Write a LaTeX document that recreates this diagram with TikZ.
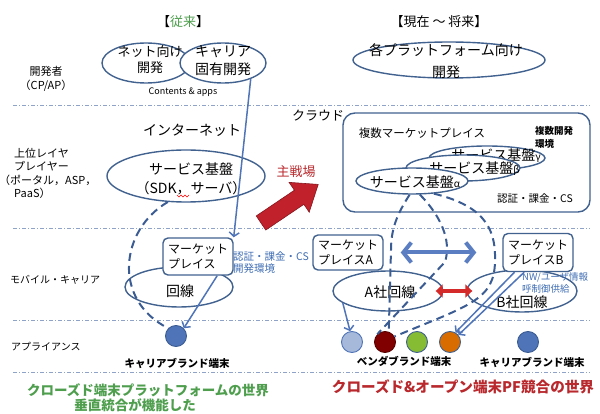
\documentclass[tikz,border=0pt]{standalone}
\usepackage{fontspec}
\setmainfont{Noto Sans CJK JP}
\usetikzlibrary{arrows.meta,shapes.geometric}
\definecolor{edgeblue}{HTML}{41618F}
\definecolor{lineblue}{HTML}{4F74B8}
\definecolor{bigblue}{HTML}{5B7EC2}
\definecolor{dashblue}{HTML}{3A5C93}
\definecolor{sepcol}{HTML}{8FA3C8}
\definecolor{notecol}{HTML}{3F6DB3}
\definecolor{greentext}{HTML}{4E9E4E}
\definecolor{redtext}{HTML}{B8282C}
\definecolor{arrowred}{HTML}{C0212B}
\definecolor{dblredarrow}{HTML}{D42A2A}
\newcommand\fz[2]{\fontsize{#1}{#2}\selectfont}
\begin{document}
\begin{tikzpicture}[x=1pt,y=-1pt,
  oval/.style={ellipse, draw=edgeblue, line width=1.4pt, inner sep=0pt},
  wov/.style={oval, fill=white},
  mbox/.style={draw=edgeblue, line width=1.4pt, rounded corners=5pt, fill=white, align=left, inner sep=2pt, font=\fz{12}{15}},
  lbl/.style={inner sep=0pt},
  sepline/.style={draw=sepcol, line width=0.7pt, dash pattern=on 4pt off 2pt on 1pt off 2pt},
  bluearrow/.style={draw=lineblue, line width=1.5pt, -{Straight Barb[length=4pt,width=10pt]}},
  dashl/.style={draw=dashblue, line width=2pt, dash pattern=on 8pt off 5pt},
  term/.style={circle, minimum size=21pt, inner sep=0pt, line width=0.9pt, draw=edgeblue},
]
\useasboundingbox (0,0) rectangle (600,414);

% separators
\draw[sepline] (13,105) -- (590,105);
\draw[sepline] (13,228) -- (590,228);
\draw[sepline] (13,320) -- (590,320);
\draw[sepline] (13,372) -- (590,372);

% titles
\node[lbl, font=\fz{13}{15}] (t1) at (183,22) {【\textcolor{greentext}{従来}】};
\node[lbl, font=\fz{13}{15}] (t2) at (439,22) {【現在 ～ 将来】};

% left labels
\node[lbl, font=\fz{11}{14}, align=center] (l1) at (46,79) {開発者\\（CP/AP）};
\node[lbl, anchor=west, font=\fz{11}{13}] (l2a) at (14,153) {上位レイヤ};
\node[lbl, anchor=west, font=\fz{11}{13}] (l2b) at (14,166) {プレイヤー};
\node[lbl, anchor=west, font=\fz{11}{13}] (l2c) at (-1,180) {（ポータル，ASP，};
\node[lbl, anchor=west, font=\fz{11}{13}] (l2d) at (14,193) {PaaS）};
\node[lbl, anchor=west, font=\fz{10}{12}] (l3) at (10,280) {モバイル・キャリア};
\node[lbl, anchor=west, font=\fz{10}{12}] (l4) at (11,347) {アプライアンス};

% developer layer (left)
\node[wov, minimum width=88pt, minimum height=40pt] (netdev) at (146,63) {};
\node[lbl, font=\fz{13}{16}, align=center] (netdevt) at (150,60) {ネット向け\\開発};
\node[wov, minimum width=86pt, minimum height=40pt] (cardev) at (223,63) {};
\node[lbl, font=\fz{14}{18}, align=center] (cardevt) at (223,61) {キャリア\\固有開発};
\node[lbl, font=\fz{9}{11}] (capps) at (183,92) {Contents \& apps};

% developer layer (right)
\node[oval, minimum width=192pt, minimum height=36pt] (pfdev) at (449,60) {};
\node[lbl, font=\fz{14}{22}, align=center] (pfdevt) at (446,61) {各プラットフォーム向け\\開発};

% upper layer left
\node[lbl, font=\fz{14}{16}] (inet) at (192,130) {インターネット};
\node[oval, minimum width=158pt, minimum height=52pt] (svc) at (186,176) {};
\node[lbl, font=\fz{14}{19}, align=center] (svct) at (191,179) {サービス基盤\\（SDK，サーバ）};
\draw[red, line width=0.5pt] (177,195) -- (179,197) -- (181,195) -- (183,197) -- (185,195) -- (187,197) -- (189,195);

% main battlefield arrow
\node[lbl, font=\fz{13}{15}, text=redtext] (senjo) at (296,172) {主戦場};
\begin{scope}[shift={(261,223)}, rotate=34]
\fill[arrowred, draw=arrowred!70!black, line width=0.6pt] (0,-8.5) -- (46,-8.5) -- (46,-18) -- (69,0) -- (46,18) -- (46,8.5) -- (0,8.5) -- cycle;
\end{scope}

% cloud
\node[lbl, font=\fz{13}{15}] (cloudt) at (318,116) {クラウド};
\node[draw=edgeblue, line width=1.4pt, rounded corners=12pt, minimum width=247pt, minimum height=99pt, fill=white] (cloud) at (466.5,162.5) {};
\node[lbl, font=\fz{11.5}{14}] (multimp) at (422,133) {複数マーケットプレイス};
\node[lbl, anchor=north west, font=\fz{9.5}{13}\bfseries, align=left] (multidev) at (535,126) {複数開発\\環境};
\node[lbl, font=\fz{10.5}{13}] (authr) at (535,199) {認証・課金・CS};
\node[wov, minimum width=116pt, minimum height=24pt] (gam) at (487,158) {};
\node[lbl, anchor=east, font=\fz{14}{16}] (gamt) at (541,156) {サービス基盤{\fz{10}{12}γ}};
\node[wov, minimum width=114pt, minimum height=26pt] (bet) at (463,168) {};
\node[lbl, anchor=east, font=\fz{14}{16}] (bett) at (520,169) {サービス基盤{\fz{10}{12}β}};
\node[wov, minimum width=112pt, minimum height=26pt] (alp) at (412,181) {};
\node[lbl, font=\fz{14}{16}] (alpt) at (415,182) {サービス基盤{\fz{10}{12}α}};

% mobile layer left
\node[oval, minimum width=108pt, minimum height=40pt] (mline) at (179,287) {};
\node[mbox, minimum width=70pt, minimum height=37pt] (mkt) at (198,256.5) {マーケット\\プレイス};
\node[lbl, font=\fz{14}{16}] (mlinet) at (180,291) {回線};
\node[lbl, anchor=north west, align=left, font=\fz{10.5}{12.5}, text=notecol] (note1) at (233,251) {認証・課金・CS\\開発環境};

% mobile layer right
\node[oval, minimum width=110pt, minimum height=40pt] (lineA) at (388,291) {};
\node[mbox, minimum width=70pt, minimum height=35pt] (mktA) at (348,252.5) {マーケット\\プレイスA};
\node[lbl, font=\fz{14}{16}] (lineAt) at (390,292) {A社回線};
\node[oval, minimum width=110pt, minimum height=42pt] (lineB) at (522,291) {};
\node[mbox, minimum width=70pt, minimum height=38pt] (mktB) at (538,252.5) {マーケット\\プレイスB};
\node[lbl, font=\fz{14}{16}] (lineBt) at (522,302) {B社回線};
\node[lbl, anchor=north west, align=left, font=\fz{9.5}{12}, text=notecol] (note2) at (522,272) {NW/ユーザ情報\\呼制御供給};

% terminals
\node[term, fill=lineblue, draw=dashblue] (lc) at (176,336) {};
\node[term, fill=lineblue!50, draw=lineblue] (c1) at (352,342) {};
\node[term, fill=red!50!black, draw=red!35!black] (c2) at (385,342) {};
\node[term, fill=green!45!black!60!yellow!80, draw=edgeblue] (c3) at (417,342) {};
\node[term, fill=orange!85!black, draw=edgeblue] (c4) at (450,342) {};
\node[term, fill=lineblue, draw=dashblue] (c5) at (528,342) {};
\node[lbl, font=\fz{10.5}{12}\bfseries] (lct) at (177,363) {キャリアブランド端末};
\node[lbl, font=\fz{10.5}{12}\bfseries] (vt) at (404,361) {ベンダブランド端末};
\node[lbl, font=\fz{10.5}{12}\bfseries] (ct) at (532,362) {キャリアブランド端末};

% bottom texts
\node[lbl, font=\fz{13.5}{16}\bfseries, text=greentext] (g1) at (148,390) {クローズド端末プラットフォームの世界};
\node[lbl, font=\fz{13.5}{16}\bfseries, text=greentext] (g2) at (135,405) {垂直統合が機能した};
\node[lbl, font=\fz{14.6}{17}\bfseries, text=redtext] (r1) at (463,387) {クローズド\&オープン端末PF競合の世界};

% connectors left
\draw[bluearrow] (cardev.-30) -- (mkt.north east);
\draw[bluearrow] (mkt.-45) -- (lc.north east);
\draw[dashl] (svc.-125) .. controls (120,230) and (112,300) .. (lc.135);

% connectors right
\draw[bluearrow] (lineA.195) -- (c1.100);
\draw[bluearrow] (mktB.-140) -- (c4.60);
\draw[bluearrow] (mktB.-125) -- (c4.40);
\draw[dashl] (alp.-100) .. controls (400,210) and (391,225) .. (391,250) -- (c2.70);
\draw[dashl] (alp.-60) .. controls (440,215) and (452,240) .. (445,262) -- (c2.135);
\draw[dashl] (alp.-30) .. controls (480,205) and (496,225) .. (495,260) .. controls (495,300) and (470,305) .. (c2.30);
\draw[draw=bigblue, line width=4pt, {Straight Barb[length=8pt,width=20pt]}-{Straight Barb[length=8pt,width=20pt]}, shorten <=17pt, shorten >=26pt] (mktA.east) -- (mktB.west);
\draw[draw=dblredarrow, line width=3.5pt, {Triangle[length=7pt,width=13pt]}-{Triangle[length=7pt,width=13pt]}, shorten <=-8pt, shorten >=-6pt] (lineA.east) -- (lineB.west);
\end{tikzpicture}
\end{document}
